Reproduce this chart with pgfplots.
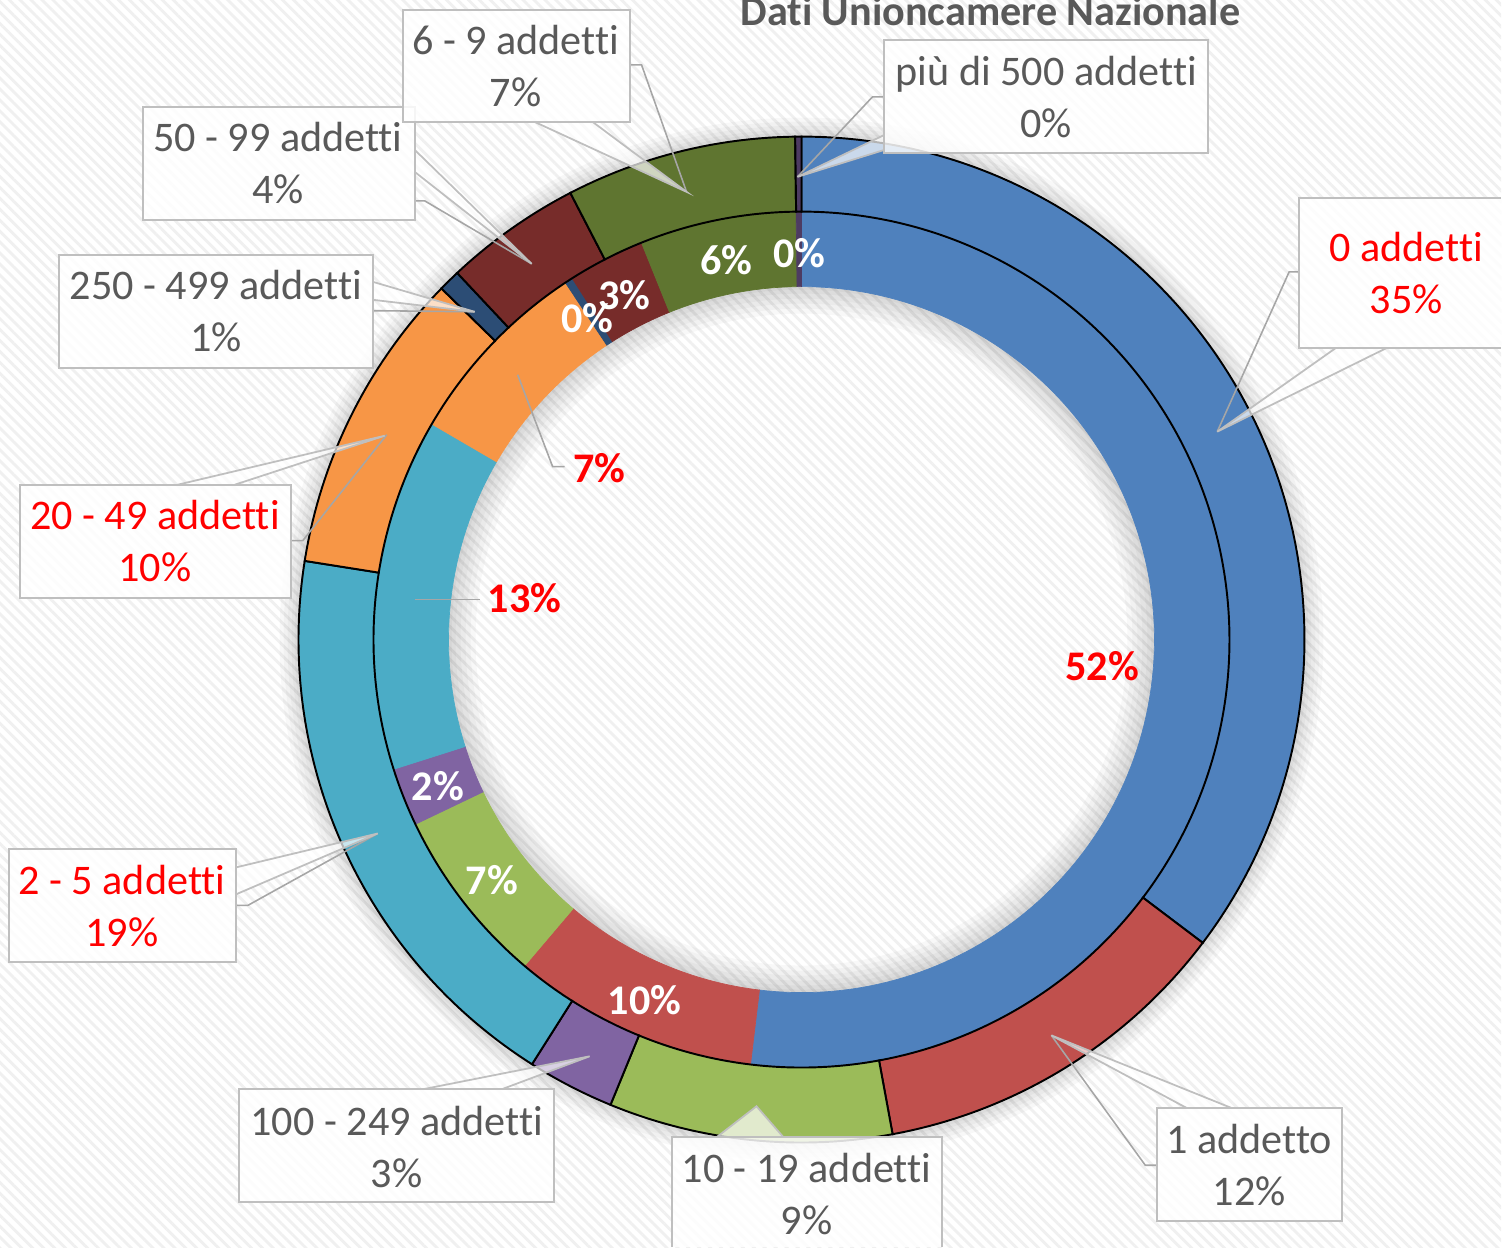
\documentclass[border=0pt]{standalone}
\usepackage{pgfplots}
\pgfplotsset{compat=1.18}
\usepackage{pgfplotstable}
\usetikzlibrary{patterns.meta}
\usepackage{fontspec}
\setmainfont{Carlito}[Ligatures={NoCommon}]
\definecolor{c0}{HTML}{4F81BD}
\definecolor{c1}{HTML}{C0504D}
\definecolor{c2}{HTML}{9BBB59}
\definecolor{c3}{HTML}{8064A2}
\definecolor{c4}{HTML}{4BACC6}
\definecolor{c5}{HTML}{F79646}
\definecolor{c6}{HTML}{2C4D75}
\definecolor{c7}{HTML}{772C2A}
\definecolor{c8}{HTML}{5F7530}
\definecolor{c9}{HTML}{4D3B62}
\definecolor{lab}{HTML}{595959}
\definecolor{boxln}{HTML}{BFBFBF}
\definecolor{lead}{HTML}{A6A6A6}
\definecolor{red0}{HTML}{FF0000}
\tikzset{
  lbl/.style={anchor=base,font=\fontsize{12}{14}\selectfont,text=lab,inner sep=0pt},
  bl/.style={anchor=base,font=\fontsize{12}{14}\selectfont\bfseries,inner sep=0pt},
  callbox/.style={fill=white,fill opacity=0.85,draw=boxln,line width=0.55pt},
  boxfill/.style={fill=white,fill opacity=0.85},
  boxline/.style={draw=boxln,line width=0.55pt},
  wedge/.style={fill=white,fill opacity=0.7,draw=boxln,line width=0.5pt},
  leader/.style={draw=lead,line width=0.45pt},
}
% categories: 0 addetti, 1 addetto, 10-19, 100-249, 2-5, 20-49, 250-499, 50-99, 6-9, piu di 500
\pgfplotstableread{
outer inner
35.3 51.9
11.8 9.3
9.1 6.7
2.8 2.2
18.5 13.3
9.8 7.3
0.7 0.3
4.4 2.9
7.4 5.9
0.2 0.2
}\ringdata
\begin{document}
\begin{tikzpicture}
\begin{axis}[x=0.01cm,y=0.01cm,
  xmin=0,xmax=1502,ymin=-1248,ymax=0,hide axis,clip=false]
% background
\fill[white] (0,-1248) rectangle (1502,0);
\fill[pattern={Lines[angle=-45,distance=2.2pt,line width=0.8pt]},pattern color=black!6] (0,-1248) rectangle (1502,0);
% shadows
\pgfplotsinvokeforeach{5.22,5.18,5.14,5.10,5.07}{
  \fill[black,opacity=0.028,even odd rule] (802,-640) circle[radius=#1cm] (802,-640) circle[radius=4.6cm];
}
\pgfplotsinvokeforeach{3.26,3.31,3.36,3.41,3.46,3.50}{
  \fill[black,opacity=0.028,even odd rule] (802,-640) circle[radius=3.53cm] (802,-640) circle[radius=#1cm];
}
% inner ring
\def\cumI{0}
\pgfplotsinvokeforeach{0,...,9}{%
  \pgfplotstablegetelem{#1}{inner}\of\ringdata
  \pgfmathsetmacro\aA{90-3.6*\cumI}%
  \pgfmathsetmacro\cumI{\cumI+\pgfplotsretval}%
  \pgfmathsetmacro\aB{90-3.6*\cumI}%
  \edef\temp{\noexpand\filldraw[fill=c#1,draw=c#1,line width=0.2pt,shift={(axis cs:802,-640)}] (\aA:4.28cm) arc[start angle=\aA,end angle=\aB,radius=4.28cm] -- (\aB:3.53cm) arc[start angle=\aB,end angle=\aA,radius=3.53cm] -- cycle;}%
  \temp
}
% outer ring
\def\cumO{0}
\pgfplotsinvokeforeach{0,...,9}{%
  \pgfplotstablegetelem{#1}{outer}\of\ringdata
  \pgfmathsetmacro\aA{90-3.6*\cumO}%
  \pgfmathsetmacro\cumO{\cumO+\pgfplotsretval}%
  \pgfmathsetmacro\aB{90-3.6*\cumO}%
  \edef\temp{\noexpand\filldraw[fill=c#1,draw=black,line width=0.55pt,shift={(axis cs:802,-640)}] (\aA:5.03cm) arc[start angle=\aA,end angle=\aB,radius=5.03cm] -- (\aB:4.28cm) arc[start angle=\aB,end angle=\aA,radius=4.28cm] -- cycle;}%
  \temp
}
% inner ring data labels
\draw[leader] (415,-600) -- (480,-600);
\draw[leader] (518,-375) -- (553,-467) -- (565,-467);
\node[bl,text=red0] at (1103,-681) {52\%};
\node[bl,text=red0] at (525,-613) {13\%};
\node[bl,text=red0] at (600,-483) {7\%};
\node[bl,text=white] at (645,-1015) {10\%};
\node[bl,text=white] at (438,-801) {2\%};
\node[bl,text=white] at (492,-895) {7\%};
\node[bl,text=white] at (727,-275) {6\%};
\node[bl,text=white] at (800,-268) {0\%};
\node[bl,text=white] at (625,-310) {3\%};
\node[bl,text=white] at (588,-333) {0\%};
% outer callouts: leader lines
\draw[leader] (1300,-272) -- (1290,-272) -- (1218,-432);
\draw[leader] (1158,-1166) -- (1146,-1166) -- (1052,-1036);
\draw[leader] (236,-906) -- (248,-906) -- (378,-834);
\draw[leader] (291,-541) -- (303,-541) -- (387,-435);
\draw[leader] (373,-311) -- (385,-311) -- (475,-312);
\draw[leader] (415,-201) -- (425,-201) -- (532,-264);
\draw[leader] (630,-65) -- (642,-65) -- (687,-192);
\draw[leader] (885,-97) -- (873,-97) -- (798,-177);
% wedges
\path[wedge] (1337,-348) -- (1218,-432) -- (1388,-348);
\path[wedge] (1188,-1109) -- (1052,-1036) -- (1233,-1109);
\path[wedge] (717,-1138) -- (757,-1107) -- (784,-1138);
\path[wedge] (423,-1090) -- (590,-1057) -- (502,-1090);
\path[wedge] (236,-868) -- (378,-834) -- (236,-895);
\path[wedge] (178,-485) -- (385,-436) -- (235,-485);
\path[wedge] (373,-282) -- (475,-312) -- (373,-300);
\path[wedge] (415,-150) -- (532,-264) -- (415,-172);
\path[wedge] (535,-122) -- (687,-192) -- (593,-122);
\path[wedge] (885,-135) -- (798,-177) -- (885,-150);
% boxes
\path[boxfill] (1300,-348) rectangle (1502,-198);
\path[boxline] (1502,-198) -- (1300,-198) -- (1300,-348) -- (1502,-348);
\path[callbox] (1158,-1222) rectangle (1343,-1109);
\path[boxfill] (672,-1248) rectangle (943,-1138);
\path[boxline] (672,-1248) -- (672,-1138) -- (943,-1138) -- (943,-1248);
\path[callbox] (239,-1203) rectangle (554,-1090);
\path[callbox] (9,-963) rectangle (236,-850);
\path[callbox] (20,-598) rectangle (291,-485);
\path[callbox] (59,-368) rectangle (373,-255);
\path[callbox] (143,-220) rectangle (415,-107);
\path[callbox] (403,-122) rectangle (630,-10);
\path[callbox] (885,-153) rectangle (1209,-40);
% label texts
\node[lbl,text=red0] at (1407,-262) {0 addetti};
\node[lbl,text=red0] at (1407,-314) {35\%};
\node[lbl] at (1250,-1154) {1 addetto};
\node[lbl] at (1250,-1206) {12\%};
\node[lbl] at (807,-1183) {10 - 19 addetti};
\node[lbl,text depth=0pt] at (807,-1235) {9\%};
\node[lbl] at (397,-1136) {100 - 249 addetti};
\node[lbl] at (397,-1188) {3\%};
\node[lbl,text=red0] at (122,-895) {2 - 5 addetti};
\node[lbl,text=red0] at (122,-947) {19\%};
\node[lbl,text=red0] at (155,-530) {20 - 49 addetti};
\node[lbl,text=red0] at (155,-582) {10\%};
\node[lbl] at (216,-300) {250 - 499 addetti};
\node[lbl] at (216,-352) {1\%};
\node[lbl] at (278,-152) {50 - 99 addetti};
\node[lbl] at (278,-204) {4\%};
\node[lbl] at (516,-55) {6 - 9 addetti};
\node[lbl] at (516,-107) {7\%};
\node[lbl] at (1047,-86) {più di 500 addetti};
\node[lbl] at (1047,-138) {0\%};
% title
\node[bl,text=lab,text height=6pt] at (991,-26) {Dati Unioncamere Nazionale};
\end{axis}
\end{tikzpicture}
\end{document}
